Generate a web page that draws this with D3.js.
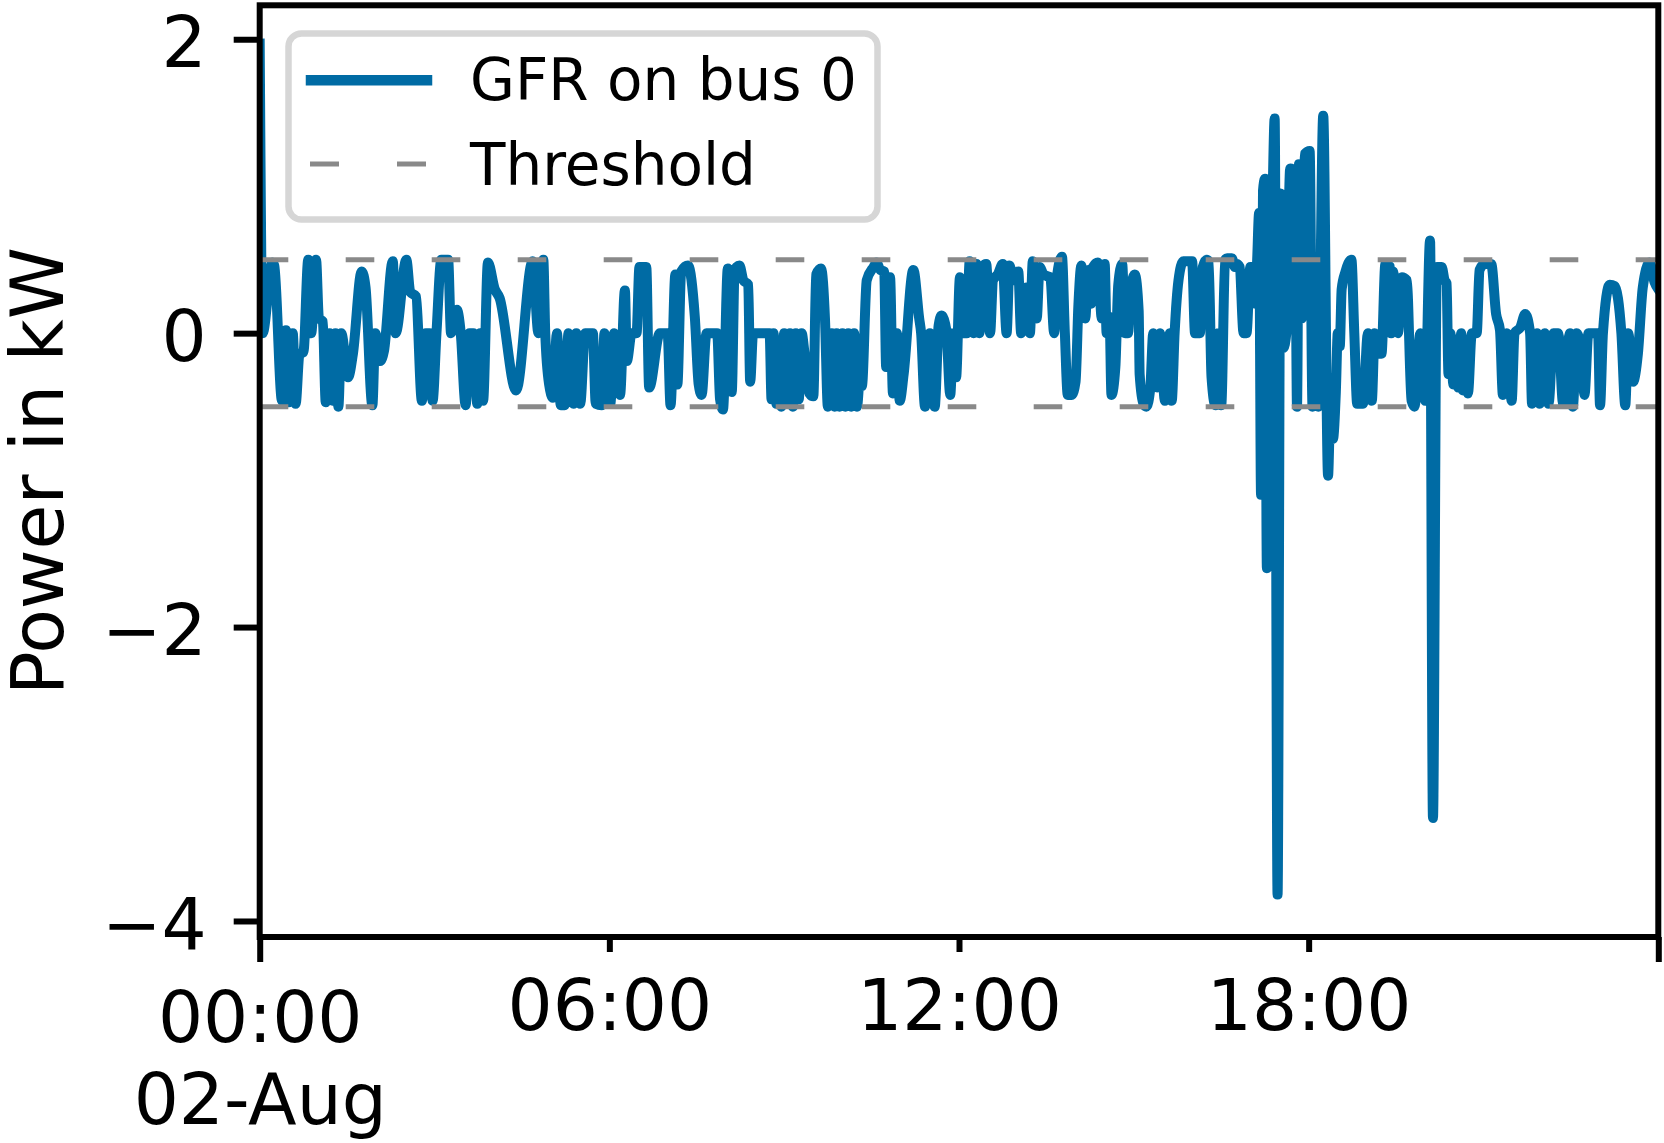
<!DOCTYPE html>
<html>
<head>
<meta charset="utf-8">
<script src="https://cdn.jsdelivr.net/npm/d3@7"></script>
<style>
  body { margin: 0; background: #fff; }
  svg { display: block; }
  text { font-family: "DejaVu Sans", sans-serif; fill: #000; }
</style>
</head>
<body>
<div class="chart"></div>
<script>

// minutes after midnight on 02-Aug, and GFR power in kW
const minutes = [
    0, 3, 13, 15, 23, 27, 30, 34, 37, 41,
    45, 50, 53, 58, 61, 65, 68, 72, 75, 78,
    81, 84, 91, 96, 105, 109, 116, 119, 124, 128,
    137, 140, 151, 155, 161, 167, 171, 175, 178, 182,
    187, 194, 197, 203, 207, 212, 216, 220, 224, 227,
    230, 235, 242, 247, 264, 281, 287, 292, 294, 298,
    302, 306, 310, 314, 318, 323, 326, 330, 335, 343,
    346, 352, 355, 361, 365, 371, 376, 378, 383, 388,
    391, 398, 401, 412, 420, 423, 428, 430, 434, 441,
    448, 452, 455, 460, 471, 474, 477, 482, 486, 489,
    491, 494, 498, 503, 505, 508, 525, 527, 529, 532,
    535, 537, 540, 543, 546, 549, 552, 555, 558, 561,
    566, 570, 573, 578, 582, 585, 589, 592, 594, 597,
    600, 603, 606, 609, 612, 615, 618, 620, 625, 632,
    635, 639, 643, 645, 649, 652, 656, 659, 663, 673,
    679, 681, 685, 690, 695, 699, 702, 707, 711, 714,
    717, 721, 724, 728, 731, 735, 738, 741, 744, 748,
    752, 755, 760, 765, 769, 772, 776, 781, 784, 789,
    793, 796, 800, 803, 807, 810, 814, 818, 821, 826,
    829, 832, 836, 840, 843, 846, 850, 853, 856, 858,
    863, 867, 870, 872, 875, 877, 881, 884, 888, 891,
    894, 897, 901, 905, 906, 910, 913, 917, 920, 924,
    927, 932, 937, 939, 942, 946, 951, 960, 963, 968,
    971, 975, 977, 980, 984, 987, 990, 994, 996, 1001,
    1004, 1006, 1009, 1013, 1016, 1020, 1023, 1025, 1027, 1029,
    1031, 1033, 1035, 1037, 1039, 1042, 1045, 1048, 1051, 1054,
    1057, 1061, 1066, 1068, 1070, 1073, 1076, 1081, 1084, 1087,
    1090, 1095, 1100, 1102, 1105, 1108, 1110, 1112, 1114, 1118,
    1124, 1127, 1130, 1136, 1141, 1145, 1148, 1152, 1155, 1159,
    1164, 1165, 1167, 1172, 1176, 1181, 1186, 1189, 1195, 1200,
    1205, 1208, 1212, 1217, 1220, 1222, 1224, 1226, 1229, 1231, 1234, 1237, 1239, 1242, 1244,
    1248, 1253, 1256, 1261, 1268, 1273, 1277, 1280, 1284, 1289,
    1292, 1298, 1303, 1308, 1310, 1315, 1318, 1323, 1327, 1332,
    1337, 1342, 1349, 1352, 1356, 1361, 1364, 1368, 1373, 1378,
    1380, 1383, 1390, 1395, 1402, 1406, 1409, 1414, 1419, 1424,
    1431, 1436, 1440
];

const power = [
    1.97, 0, 0.48, 0.46, -0.46, 0.02, -0.47, 0, -0.48, -0.14,
    -0.13, 0.5, 0, 0.5, 0.1, 0.08, -0.47, 0, -0.46, 0,
    -0.5, 0, -0.3, -0.14, 0.42, 0.31, -0.49, 0, -0.19, -0.12,
    0.49, 0, 0.5, 0.28, 0.25, -0.46, 0, 0, -0.46, 0,
    0.5, 0.5, 0, 0.16, 0, -0.49, 0, 0, -0.48, 0,
    -0.46, 0.48, 0.3, 0.24, -0.39, 0.49, 0, 0.5, 0, -0.35,
    -0.44, 0, -0.49, -0.49, 0, -0.48, 0, -0.48, 0, 0,
    -0.48, -0.49, 0, -0.48, 0, -0.42, 0.29, -0.19, 0, 0,
    0.45, 0.45, -0.37, 0, 0, -0.49, 0.4, -0.35, 0.42, 0.46,
    0.11, -0.35, -0.42, 0, 0, -0.45, -0.52, 0.44, -0.4, 0.43,
    0.45, 0.46, 0.36, 0.33, -0.33, 0, 0, -0.45, 0, -0.48,
    -0.2, -0.5, 0, -0.48, 0, -0.5, 0, -0.45, 0, -0.14,
    -0.41, -0.43, 0.4, 0.44, 0.1, -0.5, 0, -0.5, 0, -0.5,
    0, -0.5, 0, -0.5, 0, -0.5, -0.3, -0.36, 0.36, 0.45,
    0.48, 0.43, 0.42, -0.23, 0.38, -0.41, 0, -0.46, -0.28, 0.43,
    0.1, 0, -0.5, 0, -0.5, 0.05, 0.12, 0.02, -0.42, 0,
    -0.3, 0.38, 0, 0, 0.49, 0, 0.47, 0, 0.45, 0.47,
    0, 0.36, 0.4, 0.47, 0, 0.46, 0.36, 0.42, 0, 0.31,
    0, 0.49, 0.1, 0.45, 0.4, 0.39, 0.38, 0, 0.39, 0.52,
    0, -0.42, -0.42, -0.33, 0.2, 0.46, 0.1, 0.43, 0.2, 0.45,
    0.48, 0.1, 0.47, 0, 0.11, -0.42, -0.23, 0.33, 0.47, 0,
    0, 0.3, 0.4, 0.15, -0.28, -0.48, -0.5, -0.37, 0, -0.37,
    0, -0.46, 0, -0.46, 0, 0.36, 0.49, 0.49, 0, 0,
    0.45, 0.5, 0.49, -0.3, -0.49, 0, -0.49, 0.5, 0.51, 0.51,
    0.45, 0.47, 0.45, 0, 0, 0.45, 0.45, 0.2, 0.5, 0.82,
    -1.1, 0.97, 1.05, -1.6, 1.0, 0.8, 1.46, -3.82, 0.95, -0.1,
    0, 1.12, 1.1, -0.5, 1.15, 0.1, 1.22, 1.24, -0.5, 0,
    -0.5, 1.48, -0.97, -0.6, -0.72, -0.4, 0, -0.09, 0.3, 0.42,
    0.5, 0, -0.48, -0.48, 0, -0.46, 0, -0.14, -0.14, 0.47,
    0.45, 0, 0.42, 0, 0.38, 0.36, -0.46, -0.5, 0, -0.46,
    0.63, -3.3, 0.45, 0.45, 0.36, 0.34, -0.28, 0, -0.35, -0.05, -0.37, 0, -0.39, -0.1, -0.41,
    0, 0, 0.43, 0.47, 0.47, 0.13, 0.02, -0.42, 0, -0.46,
    0, 0.04, 0.13, 0, -0.48, 0, -0.48, 0, -0.48, 0,
    0, -0.48, 0, -0.5, 0, -0.14, -0.42, 0, 0, 0,
    -0.49, 0, 0.33, 0.32, 0, -0.49, 0, -0.33, -0.14, 0.31,
    0.48, 0.35, 0.3
];

const THRESHOLD = 0.5;
const Y_TICKS = [-4, -2, 0, 2];
const Y_DOMAIN = [-4.109, 2.231];
const X_TICK_HOURS = [6, 12, 18];
const X_TICK_LABELS = ["06:00", "12:00", "18:00"];
const START_LABEL = ["00:00", "02-Aug"];
const LEGEND_LABELS = ["GFR on bus 0", "Threshold"];
const Y_LABEL = "Power in kW";

const FRAME_WIDTH = 1664;
const FRAME_HEIGHT = 1143;
const PLOT = {left: 259.7, right: 1658.3, top: 5.3, bottom: 937};
const LINE_COLOR = "#006ba4";
const THRESH_COLOR = "#898989";
const TICK_FONT = 71;

const DAY = new Date(2022, 7, 2);
const data = minutes.map((m, i) => ({t: d3.timeMinute.offset(DAY, m), v: power[i]}));

const FRAME = d3.select(".chart")
                .append("svg")
                .attr("width", FRAME_WIDTH)
                .attr("height", FRAME_HEIGHT);

FRAME.append("rect")
    .attr("width", FRAME_WIDTH)
    .attr("height", FRAME_HEIGHT)
    .attr("fill", "#fff");

const X_SCALE = d3.scaleTime()
                  .domain([DAY, d3.timeDay.offset(DAY, 1)])
                  .range([PLOT.left, PLOT.right]);

const Y_SCALE = d3.scaleLinear()
                  .domain(Y_DOMAIN)
                  .range([PLOT.bottom, PLOT.top]);

FRAME.append("clipPath")
    .attr("id", "plot-clip")
    .append("rect")
        .attr("x", PLOT.left)
        .attr("y", PLOT.top)
        .attr("width", PLOT.right - PLOT.left)
        .attr("height", PLOT.bottom - PLOT.top);

const LINE = d3.line()
               .x(d => X_SCALE(d.t))
               .y(d => Y_SCALE(d.v))
               .curve(d3.curveMonotoneX);

FRAME.append("path")
    .datum(data)
    .attr("clip-path", "url(#plot-clip)")
    .attr("d", LINE)
    .attr("fill", "none")
    .attr("stroke", LINE_COLOR)
    .attr("stroke-width", 10)
    .attr("stroke-linejoin", "round")
    .attr("stroke-linecap", "square");

// threshold band, dashed
FRAME.selectAll(".threshold")
    .data([THRESHOLD, -THRESHOLD])
    .enter()
    .append("line")
        .attr("class", "threshold")
        .attr("x1", X_SCALE.range()[0])
        .attr("x2", X_SCALE.range()[1])
        .attr("y1", d => Y_SCALE(d))
        .attr("y2", d => Y_SCALE(d))
        .attr("stroke", THRESH_COLOR)
        .attr("stroke-width", 5)
        .attr("stroke-dasharray", "28.6,57.4");

// y axis
const yAxis = FRAME.append("g")
    .attr("transform", "translate(" + PLOT.left + ",0)")
    .call(d3.axisLeft(Y_SCALE).tickValues(Y_TICKS).tickSize(26).tickPadding(27)
            .tickFormat(d3.format("d")));
yAxis.select(".domain").remove();
yAxis.selectAll("line").attr("stroke", "#000").attr("stroke-width", 6);
yAxis.selectAll("text")
    .attr("font-size", TICK_FONT)
    .attr("font-family", "DejaVu Sans")
    .attr("dy", "0.39em");

// x axis: labelled hours
const xMinor = FRAME.append("g")
    .attr("transform", "translate(0," + PLOT.bottom + ")")
    .call(d3.axisBottom(X_SCALE)
            .tickValues(X_TICK_HOURS.map(h => d3.timeHour.offset(DAY, h)))
            .tickSize(15).tickPadding(28)
            .tickFormat((d, i) => X_TICK_LABELS[i]));
xMinor.select(".domain").remove();
xMinor.selectAll("line").attr("stroke", "#000").attr("stroke-width", 6);
xMinor.selectAll("text").attr("font-size", TICK_FONT).attr("font-family", "DejaVu Sans");

// x axis: day boundaries
const xMajor = FRAME.append("g")
    .attr("transform", "translate(0," + PLOT.bottom + ")")
    .call(d3.axisBottom(X_SCALE)
            .tickValues([DAY, d3.timeDay.offset(DAY, 1)])
            .tickSize(25).tickPadding(30)
            .tickFormat(() => ""));
xMajor.select(".domain").remove();
xMajor.selectAll("line").attr("stroke", "#000").attr("stroke-width", 6);
xMajor.selectAll("text")
    .attr("font-size", TICK_FONT)
    .attr("font-family", "DejaVu Sans")
    .filter((d, i) => i === 0)
    .each(function() {
        const t = d3.select(this);
        START_LABEL.forEach((s, k) => {
            t.append("tspan")
                .attr("x", 0)
                .attr("dy", k === 0 ? null : "1.15em")
                .text(s);
        });
    });

// spines on top of the data
FRAME.append("rect")
    .attr("x", PLOT.left)
    .attr("y", PLOT.top)
    .attr("width", PLOT.right - PLOT.left)
    .attr("height", PLOT.bottom - PLOT.top)
    .attr("fill", "none")
    .attr("stroke", "#000")
    .attr("stroke-width", 6);

FRAME.append("text")
    .attr("transform", "translate(63," + ((PLOT.top + PLOT.bottom) / 2) + ") rotate(-90)")
    .attr("text-anchor", "middle")
    .attr("font-size", 73)
    .text(Y_LABEL);

// legend
const LEGEND = FRAME.append("g");
LEGEND.append("rect")
    .attr("x", 288.5)
    .attr("y", 33.5)
    .attr("width", 589)
    .attr("height", 186)
    .attr("rx", 13)
    .attr("fill", "#fff")
    .attr("fill-opacity", 0.8)
    .attr("stroke", "#d6d6d6")
    .attr("stroke-width", 6.5);

LEGEND.append("line")
    .attr("x1", 311).attr("x2", 427)
    .attr("y1", 80.3).attr("y2", 80.3)
    .attr("stroke", LINE_COLOR)
    .attr("stroke-width", 10.5)
    .attr("stroke-linecap", "square");

LEGEND.append("line")
    .attr("x1", 310).attr("x2", 426)
    .attr("y1", 164).attr("y2", 164)
    .attr("stroke", THRESH_COLOR)
    .attr("stroke-width", 5)
    .attr("stroke-dasharray", "29,58");

LEGEND.selectAll(".legend-text")
    .data(LEGEND_LABELS)
    .enter()
    .append("text")
        .attr("class", "legend-text")
        .attr("x", 470)
        .attr("y", (d, i) => i === 0 ? 100 : 185)
        .attr("font-size", 58)
        .text(d => d);

</script>
</body>
</html>
